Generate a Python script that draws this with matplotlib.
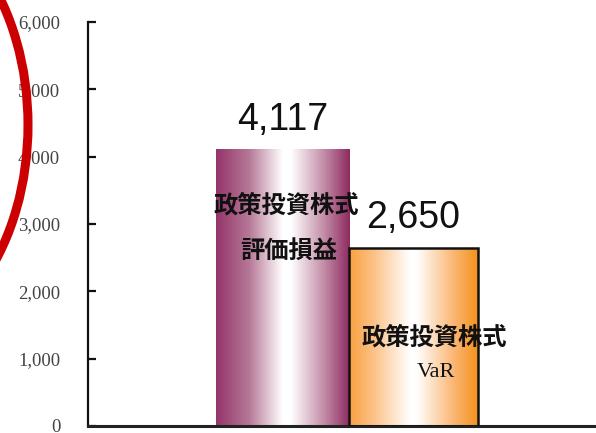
import numpy as np
import matplotlib
matplotlib.use("Agg")
import matplotlib.pyplot as plt
from matplotlib.colors import LinearSegmentedColormap
from matplotlib.patches import Ellipse

# Data
categories = ["政策投資株式\n評価損益", "政策投資株式\nVaR"]
values = [4117, 2650]
value_labels = ["4,117", "2,650"]
y_ticks = [0, 1000, 2000, 3000, 4000, 5000, 6000]
y_tick_labels = ["0", "1,000", "2,000", "3,000", "4,000", "5,000", "6,000"]

W, H = 596, 433
fig = plt.figure(figsize=(W / 100, H / 100), dpi=100)
fig.patch.set_facecolor("white")

ax_left, ax_right = 88, 596
ax_top, ax_bottom = 22, 426
ax = fig.add_axes([ax_left / W, (H - ax_bottom) / H,
                   (ax_right - ax_left) / W, (ax_bottom - ax_top) / H])

x = np.arange(len(values), dtype=float)
widths = [1.0, 0.97]
lefts = x - 0.5

# Horizontal gradients: edge colour -> white -> edge colour
cmaps = [
    LinearSegmentedColormap.from_list(
        "maroon", [(0.0, "#94346a"), (0.25, "#b77a98"), (0.5, "#ffffff"),
                   (0.56, "#ffffff"), (0.8, "#c590aa"), (1.0, "#8e2b60")]),
    LinearSegmentedColormap.from_list(
        "orange", [(0.0, "#f8a040"), (0.2, "#fcc48c"), (0.47, "#ffffff"),
                   (0.52, "#ffffff"), (0.8, "#fbb878"), (1.0, "#f39018")]),
]
edges = ["none", "#111111"]

grad = np.linspace(0, 1, 256).reshape(1, -1)
bars = ax.bar(lefts, values, width=widths, align="edge", color="none",
              edgecolor="none", zorder=2)
for i, b in enumerate(bars):
    x0, y0 = b.get_x(), b.get_y()
    bw, bh = b.get_width(), b.get_height()
    im = ax.imshow(grad, cmap=cmaps[i], aspect="auto",
                   extent=(x0, x0 + bw, y0, y0 + bh), zorder=2,
                   interpolation="bilinear")
    im.set_clip_path(b)
    if edges[i] != "none":
        ax.bar(lefts[i], values[i], width=widths[i], align="edge",
               color="none", edgecolor=edges[i], linewidth=1.8, zorder=3)

ax.set_xlim(-1.462, 2.357)
ax.set_ylim(0, 6000)

# Value labels above bars
for b, v, lab in zip(bars, values, value_labels):
    cx = b.get_x() + b.get_width() / 2
    ax.text(cx, v + 285, lab, ha="center", va="baseline",
            fontsize=27, family=["Liberation Sans"], color="#111111",
            zorder=5)

# Category labels inside bars
jp = ["Noto Sans CJK JP", "DejaVu Sans"]
ax.text(x[0] + 0.03, 3270, "政策投資株式", ha="center", va="center",
        fontsize=17.5, family=jp, fontweight="bold", color="#111111", zorder=5)
ax.text(x[0] + 0.05, 2600, "評価損益", ha="center", va="center",
        fontsize=17.5, family=jp, fontweight="bold", color="#111111", zorder=5)
ax.text(x[1] + 0.14, 1310, "政策投資株式", ha="center", va="center",
        fontsize=17.5, family=jp, fontweight="bold", color="#111111", zorder=5)
ax.text(x[1] + 0.15, 790, "VaR", ha="center", va="center",
        fontsize=16, family=["Liberation Serif"], color="#111111", zorder=5)

# Axes styling
for s in ["top", "right"]:
    ax.spines[s].set_visible(False)
ax.spines["left"].set_linewidth(1.6)
ax.spines["bottom"].set_linewidth(2.2)
ax.spines["left"].set_color("#111111")
ax.spines["bottom"].set_color("#222222")
ax.set_xticks([])
ax.set_yticks(y_ticks)
ax.set_yticklabels(y_tick_labels, family=["Liberation Serif"], fontsize=13.5,
                   color="#444444")
ax.tick_params(axis="y", direction="in", length=6, width=1.6, pad=20,
               color="#111111")

# Red circle mark over the left edge
over = fig.add_axes([0, 0, 1, 1], facecolor="none")
over.set_xlim(0, W)
over.set_ylim(H, 0)
over.axis("off")
over.add_patch(Ellipse((-122, 125), 300, 436, fill=False,
                       edgecolor="#cc0000", linewidth=6.5))

fig.savefig("out.png", dpi=100)
